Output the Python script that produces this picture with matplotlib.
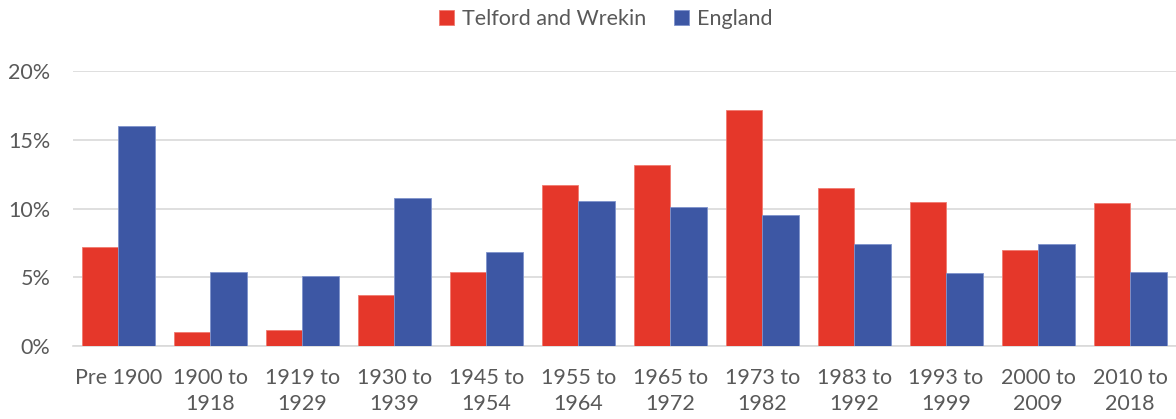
import matplotlib
matplotlib.use("Agg")
import matplotlib.pyplot as plt
import numpy as np
from matplotlib.ticker import FuncFormatter

categories = ["Pre 1900", "1900 to\n1918", "1919 to\n1929", "1930 to\n1939", "1945 to\n1954",
              "1955 to\n1964", "1965 to\n1972", "1973 to\n1982", "1983 to\n1992", "1993 to\n1999",
              "2000 to\n2009", "2010 to\n2018"]
telford = [7.2, 1.0, 1.15, 3.7, 5.4, 11.7, 13.2, 17.2, 11.5, 10.5, 7.0, 10.4]
england = [16.0, 5.4, 5.1, 10.8, 6.85, 10.55, 10.1, 9.5, 7.4, 5.3, 7.4, 5.4]
series_names = ["Telford and Wrekin", "England"]

plt.rcParams['font.family'] = ['Lato', 'DejaVu Sans']
txt = '#595959'
red = '#E5372A'
blue = '#3D57A4'
fs = 15.5

fig = plt.figure(figsize=(11.76, 4.19), dpi=100)
ax = fig.add_axes([72.5/1176, 1-346/419, (1176-72.5)/1176, (346-71)/419])

x = np.arange(len(categories))
w = 0.397
ax.bar(x - w/2, telford, w, color=red, edgecolor='#F07A70', linewidth=0.6, label=series_names[0], zorder=3)
ax.bar(x + w/2, england, w, color=blue, edgecolor='#7F93CC', linewidth=0.6, label=series_names[1], zorder=3)

ax.set_xlim(-0.5, len(categories) - 0.5)
ax.set_ylim(0, 20)
ax.set_yticks([0, 5, 10, 15, 20])
ax.yaxis.set_major_formatter(FuncFormatter(lambda v, p: f"{int(v)}%"))
ax.grid(axis='y', color='#D9D9D9', linewidth=1.2, zorder=0)
ax.set_xticks(x)
ax.set_xticklabels(categories, fontsize=fs, color=txt, linespacing=1.35)
ax.tick_params(axis='y', labelsize=fs, labelcolor=txt, length=0, pad=16)
ax.tick_params(axis='x', length=0, pad=16)
for s in ['top', 'right', 'left']:
    ax.spines[s].set_visible(False)
ax.spines['bottom'].set_color('#D9D9D9')
ax.spines['bottom'].set_linewidth(1.2)

leg = fig.legend(loc='upper center', bbox_to_anchor=(0.515, 1.025), ncol=2, frameon=False,
                 fontsize=fs, handlelength=0.7, handleheight=0.7, handletextpad=0.35,
                 columnspacing=1.3)
for t in leg.get_texts():
    t.set_color(txt)

fig.savefig("out.png", dpi=100)
